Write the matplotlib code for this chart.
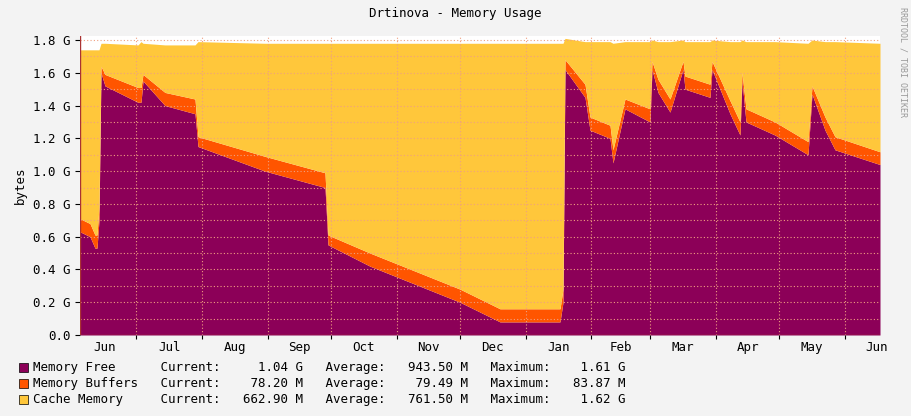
import matplotlib
matplotlib.use("Agg")
import matplotlib.pyplot as plt
import numpy as np

# sample positions (x-pixel-derived days since Jun 1) and values in G
px = [80, 90, 95, 97, 99, 101, 105, 138, 141, 143, 165, 195, 198, 265, 325, 328, 370, 460, 500, 560, 563, 565,
      585, 590, 610, 613, 625, 650, 652, 658, 670, 683, 685, 710, 712, 730, 740, 742, 746, 775, 808, 812, 825, 835, 880]
free = [0.63, 0.60, 0.53, 0.53, 0.70, 1.60, 1.52, 1.42, 1.42, 1.55, 1.40, 1.35, 1.15, 1.00, 0.90, 0.55, 0.42, 0.20, 0.08, 0.08, 0.20, 1.62,
        1.45, 1.25, 1.20, 1.05, 1.38, 1.30, 1.62, 1.48, 1.36, 1.62, 1.50, 1.45, 1.62, 1.35, 1.22, 1.55, 1.30, 1.22, 1.10, 1.47, 1.25, 1.13, 1.04]
buffers = [0.08, 0.08, 0.08, 0.08, 0.08, 0.04, 0.07, 0.09, 0.09, 0.04, 0.08, 0.09, 0.06, 0.09, 0.09, 0.06, 0.08, 0.08, 0.08, 0.08, 0.08, 0.06,
           0.08, 0.08, 0.08, 0.08, 0.06, 0.08, 0.05, 0.08, 0.08, 0.05, 0.08, 0.08, 0.05, 0.08, 0.08, 0.05, 0.08, 0.08, 0.08, 0.05, 0.08, 0.08, 0.078]
total = [1.74, 1.74, 1.74, 1.74, 1.74, 1.78, 1.78, 1.77, 1.79, 1.78, 1.77, 1.77, 1.79, 1.78, 1.78, 1.78, 1.78, 1.78, 1.78, 1.78, 1.78, 1.81,
         1.79, 1.79, 1.79, 1.78, 1.79, 1.79, 1.80, 1.79, 1.79, 1.80, 1.79, 1.79, 1.80, 1.79, 1.79, 1.80, 1.79, 1.79, 1.78, 1.80, 1.79, 1.79, 1.78]
months = ["Jun", "Jul", "Aug", "Sep", "Oct", "Nov", "Dec", "Jan", "Feb", "Mar", "Apr", "May", "Jun"]
month_len = [30, 31, 31, 30, 31, 30, 31, 31, 28, 31, 30, 31, 30]

days = [(p - 73) / 2.115 for p in px]
d = np.array(days); f = np.array(free); b = np.array(buffers); t = np.array(total)

fig = plt.figure(figsize=(9.11, 4.16), dpi=100, facecolor="#F3F3F3")
ax = fig.add_axes([80/911, 81/416, 800/911, 299/416])
ax.set_facecolor("white")
ax.fill_between(d, 0, f, color="#8C0058", lw=0)
ax.fill_between(d, f, f + b, color="#FF5500", lw=0)
ax.fill_between(d, f + b, t, color="#FFC73B", lw=0)
ax.set_xlim(days[0], days[-1])
ax.set_ylim(0, 1.8 * 299 / 295)

starts = np.concatenate([[0], np.cumsum(month_len)])
for s in starts[1:-1]:
    ax.axvline(s, color="#F0A080", ls=(0, (1, 2)), lw=0.8, zorder=3)
for y in np.arange(0.1, 1.85, 0.1):
    ax.axhline(y, color="#F0A080", ls=(0, (1, 2)), lw=0.8, zorder=3)
ax.set_xticks(starts[1:-1])
ax.set_xticklabels([])
ax.set_xticks([s + l / 2 for s, l in zip(starts, month_len)], minor=True)
ax.set_xticklabels(months, minor=True, fontsize=9, family="DejaVu Sans Mono")
ax.tick_params(axis="x", which="minor", length=0, pad=4)
ax.tick_params(axis="x", which="major", length=3)
yt = np.arange(0, 1.81, 0.2)
ax.set_yticks(yt)
ax.set_yticklabels(["0.0"] + [f"{v:.1f} G" for v in yt[1:]], fontsize=9, family="DejaVu Sans Mono")
ax.set_ylabel("bytes", fontsize=9, family="DejaVu Sans Mono")
for s in ax.spines.values():
    s.set_visible(False)
ax.axhline(0, color="#AA3333", lw=1, zorder=4)
ax.axvline(days[0], color="#AA3333", lw=1, zorder=4)

fig.text(0.5, 1 - 14/416, "Drtinova - Memory Usage", ha="center", va="center", fontsize=9, family="DejaVu Sans Mono")
fig.text(1 - 8/911, 0.85, "RRDTOOL / TOBI OETIKER", rotation=270, ha="center", va="center", fontsize=6, color="#999999", family="DejaVu Sans Mono")

rows = [("#8C0058", "Memory Free      Current:     1.04 G   Average:   943.50 M   Maximum:    1.61 G"),
        ("#FF5500", "Memory Buffers   Current:    78.20 M   Average:    79.49 M   Maximum:   83.87 M"),
        ("#FFC73B", "Cache Memory     Current:   662.90 M   Average:   761.50 M   Maximum:    1.62 G")]
for i, (c, txt) in enumerate(rows):
    y = 1 - (368 + i * 16) / 416
    fig.patches.append(plt.Rectangle((19/911, y - 4/416), 9/911, 9/416, transform=fig.transFigure, facecolor=c, edgecolor="black", lw=0.5))
    fig.text(33/911, y, txt, va="center", fontsize=9, family="DejaVu Sans Mono")

fig.savefig("out.png", dpi=100, facecolor=fig.get_facecolor())
